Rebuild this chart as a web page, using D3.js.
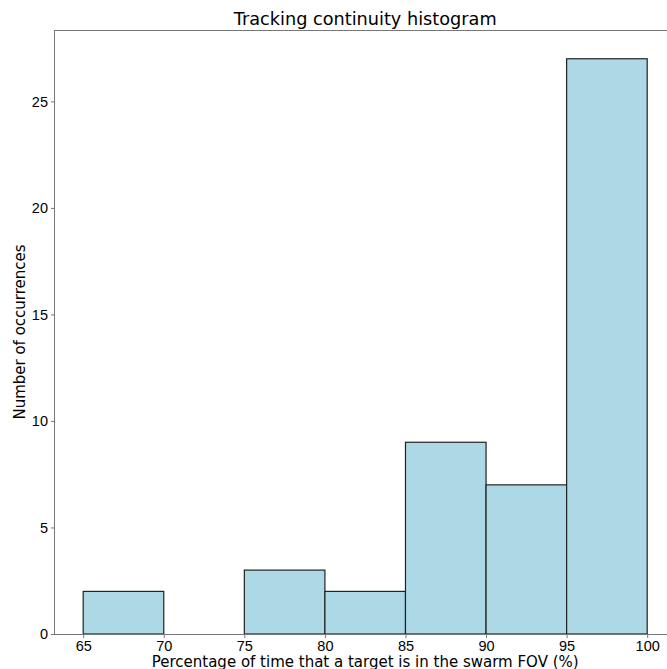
<!DOCTYPE html>
<html>
<head>
<meta charset="utf-8">
<script src="https://cdn.jsdelivr.net/npm/d3@7"></script>
<style>
  body { margin: 0; background: #fff; }
  svg { display: block; font-family: "DejaVu Sans", sans-serif; }
  .axis path, .axis line { stroke: #777; }
  .axis text { fill: #000; font-size: 14.5px; }
</style>
</head>
<body>
<div id="chart"></div>
<script>
// histogram bins (lower edge, upper edge) and counts
var binStarts = [65, 70, 75, 80, 85, 90, 95];
var binEnds   = [70, 75, 80, 85, 90, 95, 100];
var counts    = [2, 0, 3, 2, 9, 7, 27];
var xTicks = [65, 70, 75, 80, 85, 90, 95, 100];
var yTicks = [0, 5, 10, 15, 20, 25];

(function drawHistogram () {
	var W = 667, H = 669;
	var margin = {top: 30, left: 55, bottom: 35};
	var h = H - margin.top - margin.bottom;

	// matplotlib-like 5% padding on the x range
	var pad = (100 - 65) * 0.05;
	var xScale = d3.scaleLinear()
		.domain([65 - pad, 100 + pad])
		.range([0, 16.114 * (35 + 2 * pad)]);
	var w = xScale.range()[1];

	var yScale = d3.scaleLinear()
		.domain([0, d3.max(counts) * 1.05])
		.range([h, 0]);

	var svg = d3.select("#chart").append("svg")
		.attr("width", W)
		.attr("height", H);

	var g = svg.append("g")
		.attr("transform", "translate(" + margin.left + "," + margin.top + ")");

	var data = counts.map(function(c, i) {
		return {x0: binStarts[i], x1: binEnds[i], n: c};
	});

	g.selectAll("rect.bar")
		.data(data.filter(function(d) { return d.n > 0; }))
		.enter()
		.append("rect")
		.attr("class", "bar")
		.attr("x", function(d) { return xScale(d.x0); })
		.attr("y", function(d) { return yScale(d.n); })
		.attr("width", function(d) { return xScale(d.x1) - xScale(d.x0); })
		.attr("height", function(d) { return h - yScale(d.n); })
		.attr("fill", "#add8e6")
		.attr("stroke", "#222")
		.attr("stroke-width", 1.2);

	// X axis
	g.append("g")
		.attr("class", "axis")
		.attr("transform", "translate(0," + h + ")")
		.call(d3.axisBottom(xScale).tickValues(xTicks).tickSize(4).tickPadding(3).tickSizeOuter(0))
		.call(function(a) { a.select(".domain").attr("d", "M0,0.5H" + w); });

	// Y axis
	g.append("g")
		.attr("class", "axis")
		.call(d3.axisLeft(yScale).tickValues(yTicks).tickSize(4).tickPadding(3).tickSizeOuter(0))
		.call(function(a) { a.select(".domain").attr("d", "M-0.5,0V" + h); });

	// top spine
	g.append("line")
		.attr("x1", 0).attr("x2", w)
		.attr("y1", 0.5).attr("y2", 0.5)
		.attr("stroke", "#777");

	// title
	svg.append("text")
		.attr("x", margin.left + xScale(82.5))
		.attr("y", 25)
		.attr("text-anchor", "middle")
		.style("font-size", "17.7px")
		.text("Tracking continuity histogram");

	// x label
	svg.append("text")
		.attr("x", margin.left + xScale(82.5))
		.attr("y", 667)
		.attr("text-anchor", "middle")
		.style("font-size", "15px")
		.text("Percentage of time that a target is in the swarm FOV (%)");

	// y label
	svg.append("text")
		.attr("transform", "translate(25," + (margin.top + h / 2) + ") rotate(-90)")
		.attr("text-anchor", "middle")
		.style("font-size", "15px")
		.text("Number of occurrences");
})();
</script>
</body>
</html>
